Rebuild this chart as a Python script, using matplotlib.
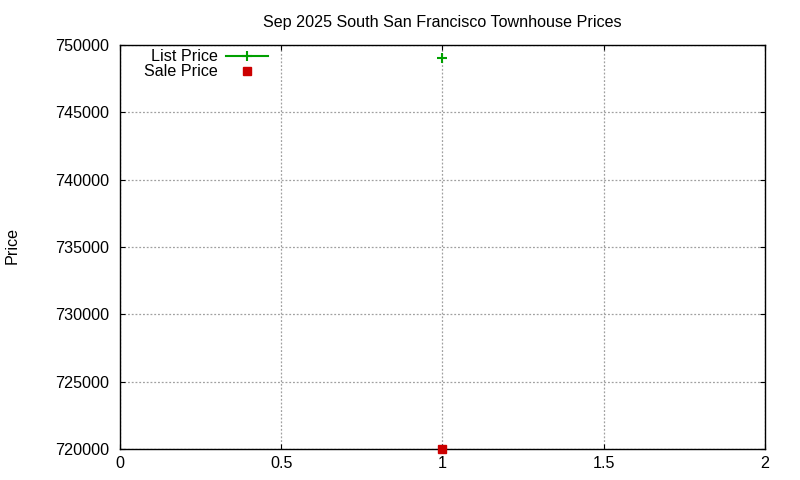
import matplotlib
matplotlib.use("Agg")
import matplotlib.pyplot as plt

plt.rcParams['font.family'] = ['Liberation Sans', 'DejaVu Sans']

# dados
x_list = [1]
list_price = [749000]
x_sale = [1]
sale_price = [720000]

xticks = [0, 0.5, 1, 1.5, 2]
xticklabels = ['0', '0.5', '1', '1.5', '2']
yticks = [720000, 725000, 730000, 735000, 740000, 745000, 750000]

fig = plt.figure(figsize=(8, 4.8), dpi=100)
ax = fig.add_axes([0.15, 0.0646, 0.806, 0.8417])

ax.plot(x_list, list_price, color='#00a000', marker='+', markersize=7,
        markeredgewidth=1.5, linewidth=1.5, label='List Price', clip_on=False)
ax.plot(x_sale, sale_price, color='#cc0000', marker='s', markersize=6,
        linestyle='none', label='Sale Price', clip_on=False, zorder=5)

ax.set_xlim(0, 2)
ax.set_ylim(720000, 750000)
ax.set_xticks(xticks)
ax.set_xticklabels(xticklabels)
ax.set_yticks(yticks)
ax.set_yticklabels([str(v) for v in yticks])
ax.tick_params(direction='in', top=True, right=True, length=3.5, labelsize=11.6)
ax.tick_params(axis='y', pad=8)
ax.tick_params(axis='x', pad=5)

ax.grid(True, color='#a0a0a0', linestyle=(0, (1.5, 1.5)), linewidth=0.9)
for s in ax.spines.values():
    s.set_linewidth(1.0)

ax.set_title('Sep 2025 South San Francisco Townhouse Prices', fontsize=11.6, pad=13)
# rotulo do eixo y posicionado na figura (gnuplot deixa bem na borda)
fig.text(12 / 800, 1 - 246 / 480, 'Price', rotation=90, fontsize=11.6,
         ha='center', va='center')

ax.legend(loc='upper left', bbox_to_anchor=(0.022, 1.013), frameon=False, markerfirst=False,
          fontsize=11.6, handlelength=2.6, borderaxespad=0.2, labelspacing=0.0,
          handletextpad=0.5)

plt.savefig('out.png', dpi=100)
